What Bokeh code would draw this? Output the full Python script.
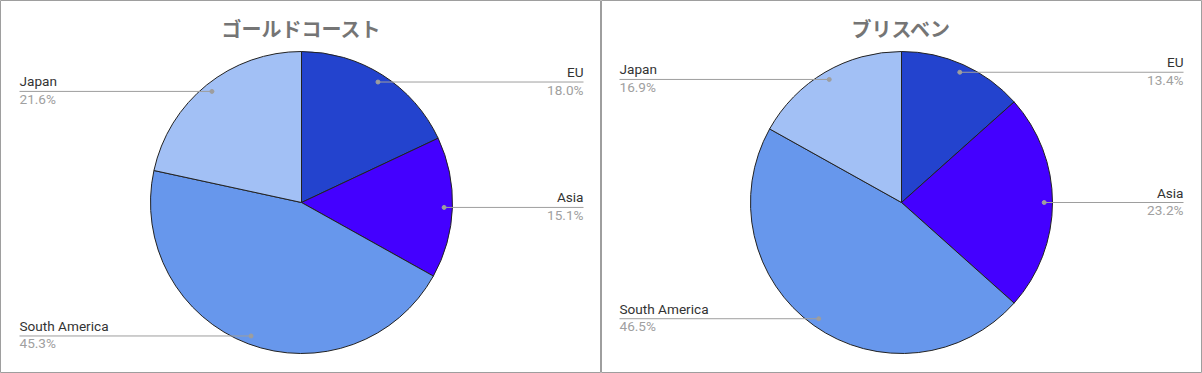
import math
from bokeh.plotting import figure
from bokeh.layouts import row
from bokeh.models import Range1d, ColumnDataSource
from bokeh.core.properties import value
from bokeh.embed import file_html
from bokeh.resources import INLINE

categories = ["EU", "Asia", "South America", "Japan"]
colors = ["#2343CE", "#4400FF", "#6797EC", "#A2C0F5"]
gold_coast = [18.0, 15.1, 45.3, 21.6]
brisbane = [13.4, 23.2, 46.5, 16.9]
titles = ["ゴールドコースト", "ブリスベン"]

H = 373
WIDTHS = [601, 601]
CY, R = 171, 151


def make(title, vals, W, CX):
    p = figure(width=W, height=H, output_backend="svg", toolbar_location=None,
               x_range=Range1d(0, W), y_range=Range1d(0, H), min_border=0)
    p.axis.visible = False
    p.grid.visible = False
    p.outline_line_color = "#9E9E9E"
    p.outline_line_width = 1
    total = sum(vals)
    cum = 0.0
    starts, ends = [], []
    for v in vals:
        starts.append(math.pi / 2 - 2 * math.pi * cum / total)
        cum += v
        ends.append(math.pi / 2 - 2 * math.pi * cum / total)
    src = ColumnDataSource(dict(start=starts, end=ends, color=colors))
    p.wedge(x=CX, y=CY, radius=R, start_angle="start", end_angle="end",
            direction="clock", fill_color="color", line_color="#222222",
            line_width=1, source=src)
    p.text(x=[CX], y=[H - 28], text=[title], text_font=value("Noto Sans CJK JP"),
           text_font_style="bold", text_font_size="20px", text_color="#757575",
           text_align="center", text_baseline="middle")
    cum = 0.0
    for cat, v in zip(categories, vals):
        mid = (cum + v / 2) / total
        cum += v
        a = math.pi / 2 - 2 * math.pi * mid
        dx = 0.945 * R * math.cos(a)
        dy = 0.945 * R * math.sin(a)
        px, py = CX + dx, CY + dy
        if dx >= 0:
            lx, align = CX + 282, "right"
        else:
            lx, align = CX - 282, "left"
        p.line(x=[px, lx], y=[py, py], line_color="#9E9E9E", line_width=1)
        p.scatter(x=[px], y=[py], size=4, color="#9E9E9E")
        p.text(x=[lx], y=[py + 2], text=[cat], text_font=value("Roboto"),
               text_font_size="13.6px", text_color="#333333", text_align=align,
               text_baseline="bottom")
        p.text(x=[lx], y=[py + 0.5], text=[f"{v:.1f}%"], text_font=value("Roboto"),
               text_font_size="13.6px", text_color="#A0A0A0", text_align=align,
               text_baseline="top")
    return p


layout = row(make(titles[0], gold_coast, WIDTHS[0], 301),
             make(titles[1], brisbane, WIDTHS[1], 300), spacing=0)
open("out.html", "w").write(file_html(layout, INLINE))
